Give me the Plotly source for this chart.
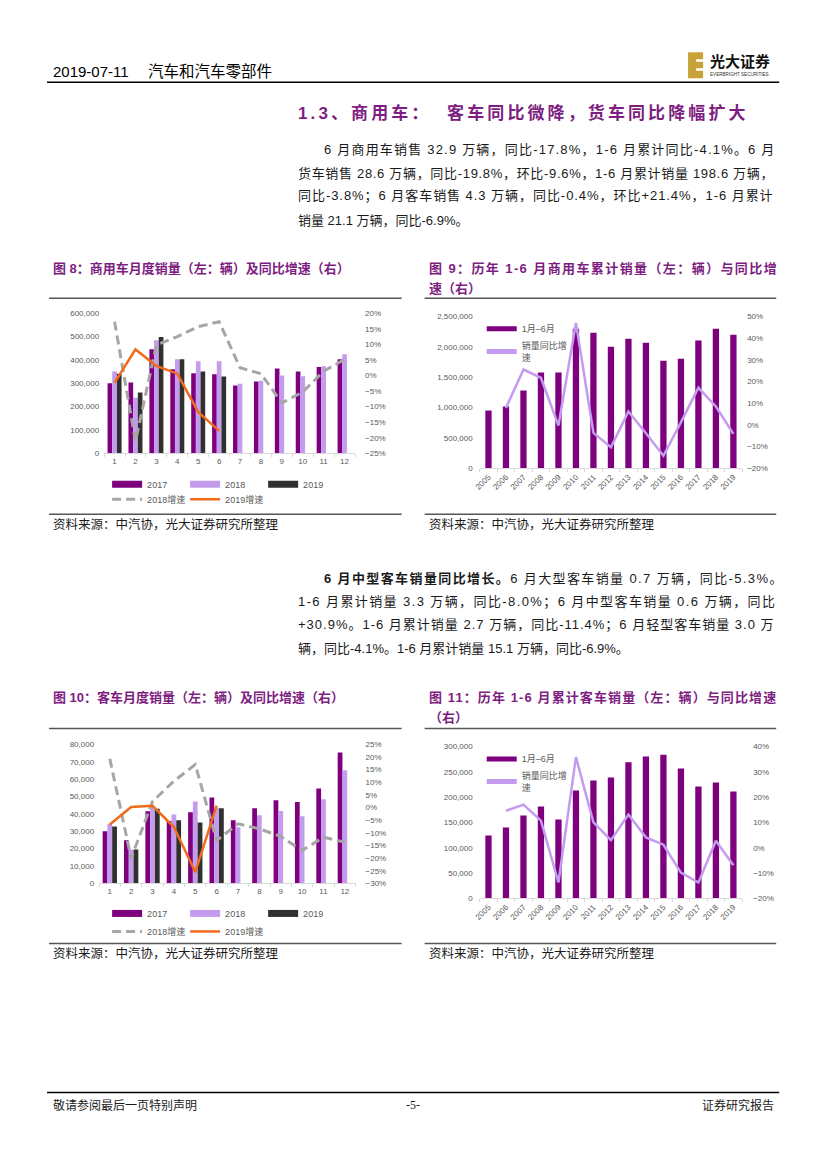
import plotly.graph_objects as go

# the page keeps the browser's 8px body margin, so the figure is 16px smaller than the window;
# SX/CX, SY/CY undo the small shift and shrink seen in the photographed page
OFF = 8
W, H = 827 - 2 * OFF, 1169 - 2 * OFF
SX, CX = 0.991, 7.1
SY, CY = 0.992, 3.8


def px(x):
    return ((x - CX) / SX - OFF) / W


def py(y):
    return 1 - ((y - CY) / SY - OFF) / H


# 图8 商用车月度销量（辆）及同比增速（%）
months = [str(i) for i in range(1, 13)]
cv_2017 = [300000, 304000, 446000, 360000, 343000, 339000, 291000, 308000, 364000, 351000, 370000, 403000]
cv_2018 = [351000, 238000, 485000, 403000, 395000, 395000, 298000, 311000, 334000, 330000, 373000, 425000]
cv_2019 = [341000, 261000, 498000, 403000, 351000, 329000]
cv_g2018 = [17.3, -21.1, 9.8, 12.5, 15.7, 17.3, 2.5, 0.6, -8.8, -5.3, 1.4, 5.2]
cv_g2019 = [-2.3, 8.4, 3.1, 0.6, -11.7, -17.8]

# 图9 历年1-6月商用车累计销量及同比
years = [str(y) for y in range(2005, 2020)]
cv_h1 = [950000, 1016000, 1280000, 1577000, 1577000, 2297000, 2231000, 2000000, 2132000, 2066000,
         1769000, 1802000, 2104000, 2297000, 2197000]
cv_h1_g = [None, 7.8, 25.5, 21.7, -0.3, 46.9, -3.7, -10.3, 6.2, -3.8, -14.2, 1.2, 17.1, 8.5, -4.1]

# 图10 客车月度销量及同比
bus_2017 = [30100, 24800, 41500, 35900, 40900, 49500, 36300, 43200, 47800, 46800, 54700, 75400]
bus_2018 = [34200, 19600, 44300, 39700, 47200, 43600, 32400, 39200, 41700, 38600, 48400, 65100]
bus_2019 = [32800, 19600, 43000, 36300, 35100, 43200]
bus_g2018 = [19.3, -20.0, 2.4, 10.5, 17.0, -13.0, -6.4, -8.4, -11.4, -17.0, -11.7, -13.7]
bus_g2019 = [-6.7, 0.2, 0.7, -7.7, -25.5, 0.8]

# 图11 历年1-6月客车累计销量及同比
bus_h1 = [124000, 139800, 163600, 181400, 155700, 213000, 232800, 238800, 268500, 280300,
          283600, 256600, 221000, 228900, 211000]
bus_h1_g = [None, 14.6, 17.0, 10.7, -13.7, 35.8, 10.0, 3.0, 13.1, 4.1, 1.2, -9.8, -13.7, 2.8, -6.9]

P_DARK = "#7F007F"
P_LIGHT = "#C49CEE"
BLACK = "#303030"
GRAY = "#A6A6A6"
ORANGE = "#F26A1B"
LINE_L = "#C39BEF"
TITLE = "#7E1E82"
TICK = "#595959"
FONT = "Liberation Sans, Noto Sans CJK SC"

fig = go.Figure()


def monthly(xa, ya, ya2, leg_a, leg_b, v17, v18, v19, g18, g19):
    for name, vals, color in [("2017", v17, P_DARK), ("2018", v18, P_LIGHT), ("2019", v19, BLACK)]:
        fig.add_trace(go.Bar(x=months[:len(vals)], y=vals, marker_color=color, marker_line_width=0,
                             showlegend=False, xaxis=xa, yaxis=ya, hoverinfo="skip"))
        # legend swatch (wide bar look)
        fig.add_trace(go.Scatter(x=[None], y=[None], mode="lines", name=name,
                                 line=dict(color=color, width=7), legend=leg_a, xaxis=xa, yaxis=ya))
    fig.add_trace(go.Scatter(x=months, y=g18, mode="lines", name="2018增速",
                             line=dict(color=GRAY, width=3, dash="9px,5px"), legend=leg_b,
                             xaxis=xa, yaxis=ya2))
    fig.add_trace(go.Scatter(x=months[:len(g19)], y=g19, mode="lines", name="2019增速",
                             line=dict(color=ORANGE, width=2.5), legend=leg_b, xaxis=xa, yaxis=ya2))


def half_year(xa, ya, ya2, leg, vals, growth):
    fig.add_trace(go.Bar(x=years, y=vals, width=0.36, marker_color=P_DARK, marker_line_width=0,
                         showlegend=False, xaxis=xa, yaxis=ya))
    fig.add_trace(go.Scatter(x=[None], y=[None], mode="lines", name="1月–6月",
                             line=dict(color=P_DARK, width=6), legend=leg, xaxis=xa, yaxis=ya))
    fig.add_trace(go.Scatter(x=years, y=growth, mode="lines", name="销量同比增<br>速",
                             line=dict(color=LINE_L, width=2.5), legend=leg, xaxis=xa, yaxis=ya2,
                             connectgaps=False))


monthly("x", "y", "y2", "legend", "legend2", cv_2017, cv_2018, cv_2019, cv_g2018, cv_g2019)
half_year("x2", "y3", "y4", "legend3", cv_h1, cv_h1_g)
monthly("x3", "y5", "y6", "legend4", "legend5", bus_2017, bus_2018, bus_2019, bus_g2018, bus_g2019)
half_year("x4", "y7", "y8", "legend6", bus_h1, bus_h1_g)

tf = dict(family=FONT, size=8, color=TICK)


def xax(x0, x1, anchor, angle=0):
    return dict(domain=[px(x0), px(x1)], anchor=anchor, type="category", tickfont=tf,
                showline=True, linecolor="#D9D9D9", linewidth=1, ticks="outside", tickson="boundaries",
                ticklen=3, tickcolor="#D9D9D9", showgrid=False, zeroline=False, tickangle=angle,
                fixedrange=True)


def yax(top, bottom, rng, dtick, fmt=",", suffix="", side="left", overlay=None, anchor=None, standoff=4):
    d = dict(range=rng, dtick=dtick, tickformat=fmt, ticksuffix=suffix, side=side, tickfont=tf,
             showgrid=False, zeroline=False, showline=False, ticks="", ticklabelstandoff=standoff,
             fixedrange=True)
    if overlay:
        d["overlaying"] = overlay
    else:
        d["domain"] = [py(bottom), py(top)]
    d["anchor"] = anchor
    return d


legfont = dict(family=FONT, size=9, color=TICK)


def hleg(x, y):
    return dict(orientation="h", x=px(x), y=py(y), xanchor="left", yanchor="middle", entrywidth=33,
                entrywidthmode="pixels", font=legfont, bgcolor="rgba(0,0,0,0)", tracegroupgap=0)


def vleg(x, y):
    return dict(orientation="v", x=px(x), y=py(y), xanchor="left", yanchor="top", font=legfont,
                bgcolor="rgba(0,0,0,0)", tracegroupgap=0, itemsizing="constant")


fig.update_layout(
    width=W, height=H, margin=dict(l=0, r=0, t=0, b=0), paper_bgcolor="white", plot_bgcolor="white",
    barmode="group", bargap=0.33, bargroupgap=0,
    font=dict(family=FONT),
    xaxis=xax(105, 355.5, "y"),
    yaxis=yax(313, 453, [0, 600000], 100000, anchor="x"),
    yaxis2=yax(0, 0, [-25, 20], 5, fmt="d", suffix="%", side="right", overlay="y", anchor="x", standoff=9),
    xaxis2=xax(480, 742, "y3", angle=-45),
    yaxis3=yax(316, 468, [0, 2500000], 500000, anchor="x2", standoff=6),
    yaxis4=yax(0, 0, [-20, 50], 10, fmt="d", suffix="%", side="right", overlay="y3", anchor="x2", standoff=4),
    xaxis3=xax(100, 356, "y5"),
    yaxis5=yax(744, 883, [0, 80000], 10000, anchor="x3"),
    yaxis6=yax(0, 0, [-30, 25], 5, fmt="d", suffix="%", side="right", overlay="y5", anchor="x3", standoff=9),
    xaxis4=xax(480, 742, "y7", angle=-45),
    yaxis7=yax(746, 898, [0, 300000], 50000, anchor="x4", standoff=6),
    yaxis8=yax(0, 0, [-20, 40], 10, fmt="d", suffix="%", side="right", overlay="y7", anchor="x4", standoff=10),
    legend=hleg(108, 484),
    legend2=hleg(108, 499),
    legend3=vleg(482, 314),
    legend4=hleg(108, 913),
    legend5=hleg(108, 931),
    legend6=vleg(482, 744),
)

ann = []


def txt(x, y, s, size=13, color="#1A1A1A", anchor="left", family=FONT, ls=0):
    if ls:
        s = "<span style='letter-spacing:%.2fpx'>%s</span>" % (ls, s)
    ann.append(dict(x=px(x), y=py(y), xref="paper", yref="paper", text=s, showarrow=False,
                    xanchor=anchor, yanchor="middle", font=dict(family=family, size=size, color=color)))


# header / footer
txt(52, 71, "2019-07-11", 15, "#000000")
txt(147, 71, "汽车和汽车零部件", 15.5, "#000000")
txt(708, 61, "<b>光大证券</b>", 15, "#111111")
txt(708, 74, "EVERBRIGHT SECURITIES", 4.6, "#333333")
txt(52, 1105, "敬请参阅最后一页特别声明", 12, "#1A1A1A")
txt(413, 1105, "-5-", 12, "#1A1A1A", anchor="center", family="Liberation Serif")
txt(776, 1105, "证券研究报告", 12, "#1A1A1A", anchor="right")

# section title and body text
txt(297, 113, "<b>1.3、商用车：  客车同比微降，货车同比降幅扩大</b>", 17, TITLE, ls=3.1)

p1 = ["6 月商用车销售 32.9 万辆，同比-17.8%，1-6 月累计同比-4.1%。6 月",
      "货车销售 28.6 万辆，同比-19.8%，环比-9.6%，1-6 月累计销量 198.6 万辆，",
      "同比-3.8%；6 月客车销售 4.3 万辆，同比-0.4%，环比+21.4%，1-6 月累计",
      "销量 21.1 万辆，同比-6.9%。"]
p1_ls = [1.2, 0.68, 0.95, 0]
for i, (line, y) in enumerate(zip(p1, [149, 173, 196, 220])):
    txt(323 if i == 0 else 297, y, line, 13, ls=p1_ls[i])

p2 = ["<b>6 月中型客车销量同比增长。</b>6 月大型客车销量 0.7 万辆，同比-5.3%。",
      "1-6 月累计销量 3.3 万辆，同比-8.0%；6 月中型客车销量 0.6 万辆，同比",
      "+30.9%。1-6 月累计销量 2.7 万辆，同比-11.4%；6 月轻型客车销量 3.0 万",
      "辆，同比-4.1%。1-6 月累计销量 15.1 万辆，同比-6.9%。"]
p2_ls = [1.38, 1.4, 1.0, 0]
for i, (line, y) in enumerate(zip(p2, [578, 602, 625, 648])):
    txt(323 if i == 0 else 297, y, line, 13, ls=p2_ls[i])

# figure titles
txt(52, 268, "<b>图 8：商用车月度销量（左：辆）及同比增速（右）</b>", 13, TITLE)
txt(427, 268, "<b>图 9：历年 1-6 月商用车累计销量（左：辆）与同比增</b>", 13, TITLE, ls=1.4)
txt(427, 288, "<b>速（右）</b>", 13, TITLE)
txt(52, 697, "<b>图 10：客车月度销量（左：辆）及同比增速（右）</b>", 13, TITLE)
txt(427, 697, "<b>图 11：历年 1-6 月累计客车销量（左：辆）与同比增速</b>", 13, TITLE, ls=1.1)
txt(427, 717, "<b>（右）</b>", 13, TITLE)

src = "资料来源：中汽协，光大证券研究所整理"
for x in (52, 427):
    txt(x, 524, src, 12.5)
    txt(x, 953, src, 12.5)

shapes = []


def hline(x0, x1, y, width=1.5, color="#333333"):
    shapes.append(dict(type="line", xref="paper", yref="paper", x0=px(x0), x1=px(x1), y0=py(y), y1=py(y),
                       line=dict(color=color, width=width)))


hline(48, 779, 82, 1.5, "#000000")
hline(48, 779, 1092, 1.5, "#000000")
for y in (298, 514, 728, 943):
    hline(50, 402, y, 1.5, "#555555")
    hline(425, 776, y, 1.5, "#555555")

# logo mark
shapes.append(dict(type="rect", xref="paper", yref="paper", x0=px(688), x1=px(703), y0=py(78), y1=py(52),
                   fillcolor="#C9A23A", line=dict(width=0)))
for y0, y1 in ((59, 61.5), (68, 70.5)):
    shapes.append(dict(type="rect", xref="paper", yref="paper", x0=px(696), x1=px(703.5), y0=py(y1), y1=py(y0),
                       fillcolor="white", line=dict(width=0)))

fig.update_layout(annotations=ann, shapes=shapes)

fig.write_html("out.html", config={"displayModeBar": False})
